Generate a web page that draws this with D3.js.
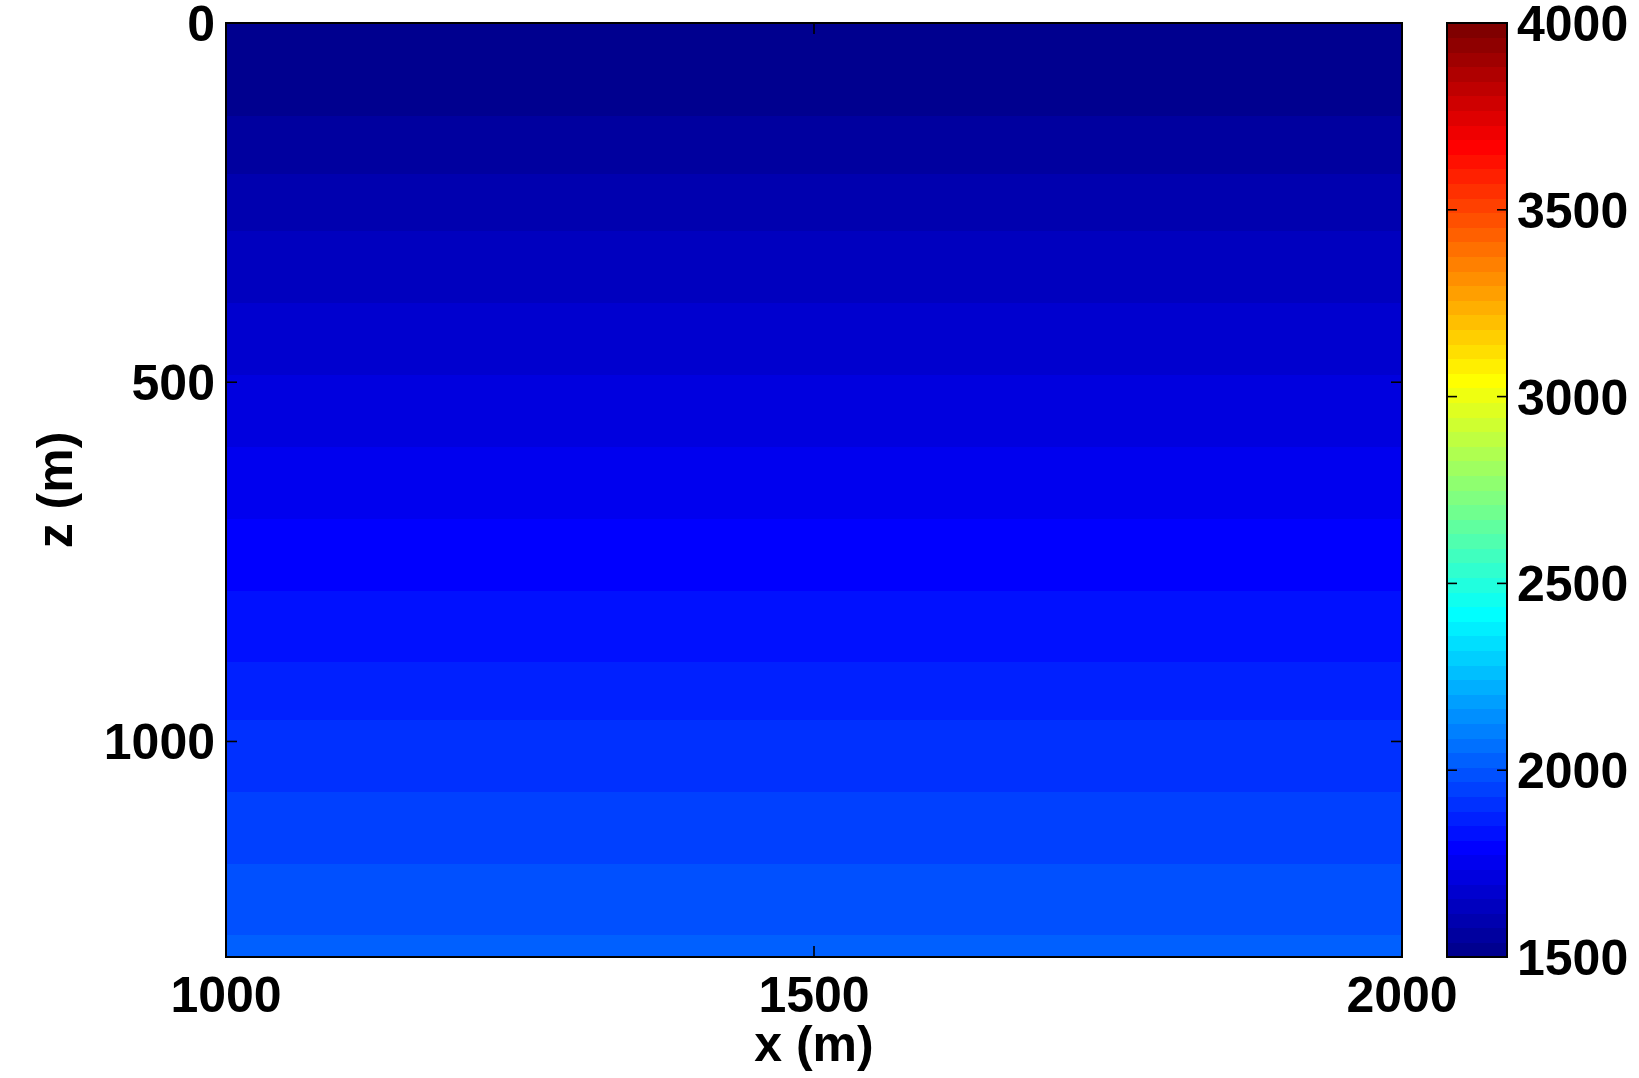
<!DOCTYPE html>
<html>
<head>
<meta charset="utf-8">
<script src="https://cdn.jsdelivr.net/npm/d3@7"></script>
<style>
  html, body { margin: 0; padding: 0; background: #fff; }
  svg { display: block; }
  text { font-family: "Liberation Sans", Arial, Helvetica, sans-serif; font-weight: bold; fill: #000; }
</style>
</head>
<body>
<svg id="chart" width="1639" height="1078"></svg>
<script>
// Velocity model: horizontal layers (depth in m, velocity in m/s)
const layerTops = [0, 130, 210, 290, 390, 490, 590, 690, 790, 890, 970, 1070, 1170, 1270];
const layerVelocity = [1520, 1560, 1600, 1640, 1680, 1715, 1755, 1795, 1835, 1870, 1910, 1950, 1990, 2030];
const depthMax = 1300;
const xRange = [1000, 2000];
const xTicks = [1000, 1500, 2000];
const zTicks = [0, 500, 1000];
const colorRange = [1500, 4000];
const colorTicks = [1500, 2000, 2500, 3000, 3500, 4000];
const nColors = 64;

// MATLAB-style jet colormap with m entries
function jet(m) {
  const n = Math.ceil(m / 4);
  const u = [];
  for (let i = 1; i <= n; i++) u.push(i / n);
  for (let i = 1; i < n; i++) u.push(1);
  for (let i = n; i >= 1; i--) u.push(i / n);
  const off = Math.ceil(n / 2) - (m % 4 === 1 ? 1 : 0);
  const J = Array.from({length: m}, () => [0, 0, 0]);
  u.forEach((val, k) => {
    const g = off + k + 1;       // 1-based row
    const r = g + n, b = g - n;
    if (g >= 1 && g <= m) J[g - 1][1] = val;
    if (r >= 1 && r <= m) J[r - 1][0] = val;
    if (b >= 1 && b <= m) J[b - 1][2] = val;
  });
  return J.map(c => d3.rgb(c[0] * 255, c[1] * 255, c[2] * 255).formatHex());
}
const cmap = jet(nColors);
const color = d3.scaleQuantize().domain(colorRange).range(cmap);

const svg = d3.select("#chart");
const plot = {left: 226, right: 1402, top: 23, bottom: 957};
const cbar = {left: 1447, right: 1507, top: 23, bottom: 957};

const x = d3.scaleLinear().domain(xRange).range([plot.left, plot.right]);
const z = d3.scaleLinear().domain([0, depthMax]).range([plot.top, plot.bottom]);
const cz = d3.scaleLinear().domain(colorRange).range([cbar.bottom, cbar.top]);

// Layers
const layers = layerTops.map((t, i) => ({
  top: t,
  bottom: i + 1 < layerTops.length ? layerTops[i + 1] : depthMax,
  v: layerVelocity[i]
}));
svg.append("g").selectAll("rect").data(layers).join("rect")
  .attr("x", x(xRange[0]))
  .attr("width", x(xRange[1]) - x(xRange[0]))
  .attr("y", d => z(d.top))
  .attr("height", d => z(d.bottom) - z(d.top) + 0.5)
  .attr("fill", d => color(d.v))
  .attr("shape-rendering", "crispEdges");

const tickLen = 11;
const fontSize = 50;

// Axes box with inward ticks on all sides
const ax = svg.append("g").attr("stroke", "#000").attr("stroke-width", 1.6);
ax.append("rect")
  .attr("x", plot.left).attr("y", plot.top)
  .attr("width", plot.right - plot.left).attr("height", plot.bottom - plot.top)
  .attr("fill", "none").attr("stroke-width", 2);
xTicks.forEach(t => {
  ax.append("line").attr("x1", x(t)).attr("x2", x(t)).attr("y1", plot.bottom).attr("y2", plot.bottom - tickLen);
  ax.append("line").attr("x1", x(t)).attr("x2", x(t)).attr("y1", plot.top).attr("y2", plot.top + tickLen);
});
zTicks.forEach(t => {
  ax.append("line").attr("y1", z(t)).attr("y2", z(t)).attr("x1", plot.left).attr("x2", plot.left + tickLen);
  ax.append("line").attr("y1", z(t)).attr("y2", z(t)).attr("x1", plot.right).attr("x2", plot.right - tickLen);
});

// Tick labels
svg.append("g").selectAll("text").data(xTicks).join("text")
  .attr("x", d => x(d)).attr("y", 1012)
  .attr("text-anchor", "middle").attr("font-size", fontSize)
  .text(d => d);
svg.append("g").selectAll("text").data(zTicks).join("text")
  .attr("x", plot.left - 11).attr("y", d => z(d))
  .attr("dy", "0.36em")
  .attr("text-anchor", "end").attr("font-size", fontSize)
  .text(d => d);

// Axis titles
svg.append("text")
  .attr("x", (plot.left + plot.right) / 2).attr("y", 1061)
  .attr("text-anchor", "middle").attr("font-size", fontSize)
  .text("x (m)");
svg.append("text")
  .attr("transform", `translate(72,${(plot.top + plot.bottom) / 2}) rotate(-90)`)
  .attr("text-anchor", "middle").attr("font-size", fontSize)
  .text("z (m)");

// Colorbar
const step = (colorRange[1] - colorRange[0]) / nColors;
svg.append("g").selectAll("rect").data(cmap).join("rect")
  .attr("x", cbar.left).attr("width", cbar.right - cbar.left)
  .attr("y", (d, i) => cz(colorRange[0] + (i + 1) * step))
  .attr("height", (d, i) => cz(colorRange[0] + i * step) - cz(colorRange[0] + (i + 1) * step) + 0.5)
  .attr("fill", d => d)
  .attr("shape-rendering", "crispEdges");
const cb = svg.append("g").attr("stroke", "#000").attr("stroke-width", 1.6);
cb.append("rect")
  .attr("x", cbar.left).attr("y", cbar.top)
  .attr("width", cbar.right - cbar.left).attr("height", cbar.bottom - cbar.top)
  .attr("fill", "none").attr("stroke-width", 2);
colorTicks.forEach(t => {
  cb.append("line").attr("y1", cz(t)).attr("y2", cz(t)).attr("x1", cbar.left).attr("x2", cbar.left + 10);
  cb.append("line").attr("y1", cz(t)).attr("y2", cz(t)).attr("x1", cbar.right).attr("x2", cbar.right - 10);
});
svg.append("g").selectAll("text").data(colorTicks).join("text")
  .attr("x", cbar.right + 10).attr("y", d => cz(d))
  .attr("dy", "0.36em")
  .attr("text-anchor", "start").attr("font-size", fontSize)
  .text(d => d);
</script>
</body>
</html>
